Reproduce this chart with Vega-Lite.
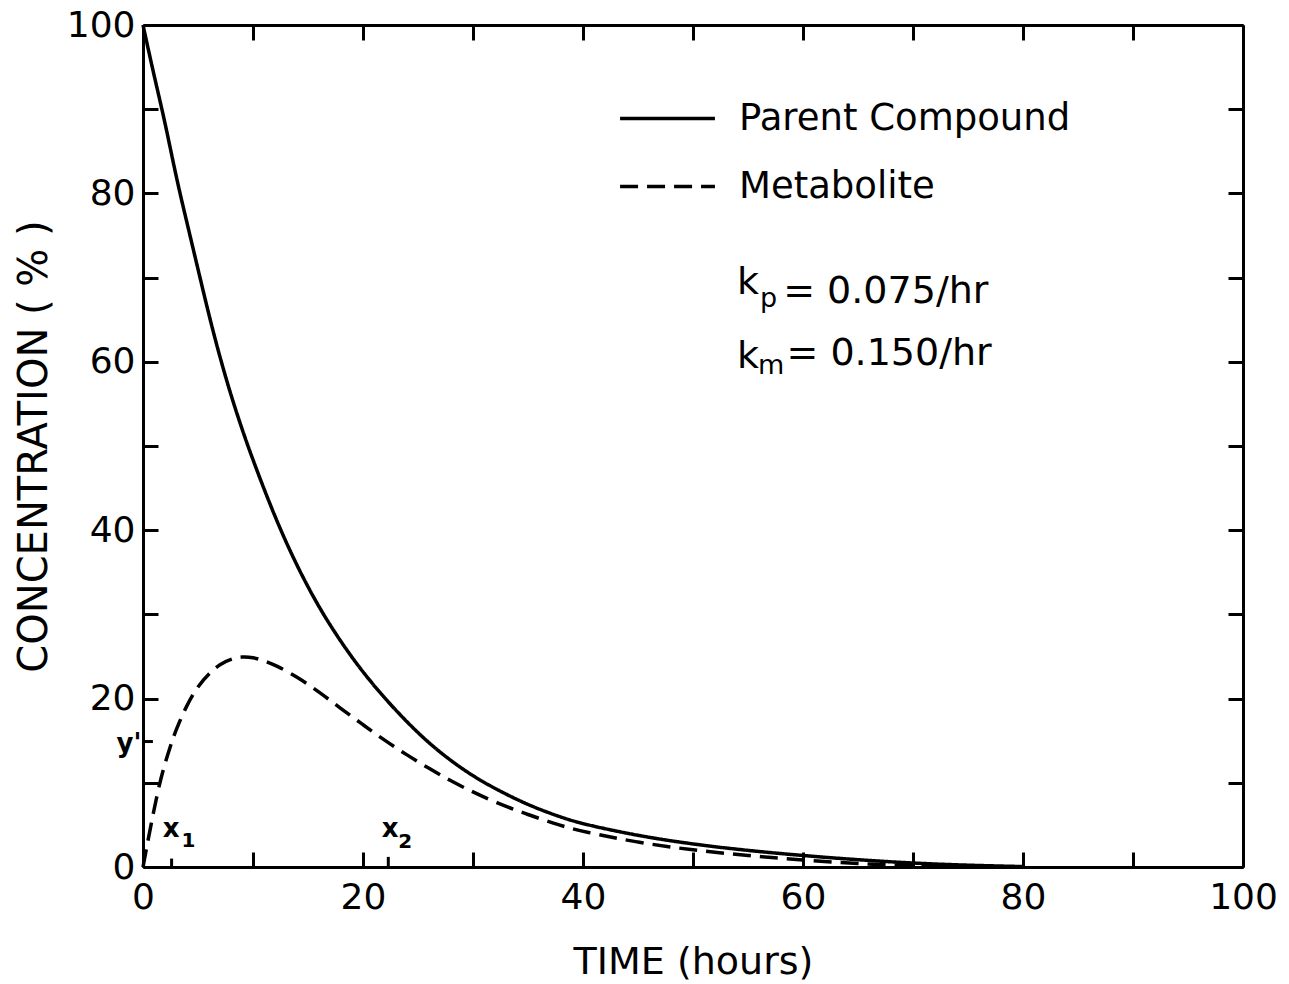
{
  "$schema": "https://vega.github.io/schema/vega-lite/v6.json",
  "width": 1100,
  "height": 842,
  "autosize": "none",
  "padding": {"left": 143, "top": 25, "right": 46, "bottom": 117},
  "background": "white",
  "config": {
    "view": {"stroke": null},
    "axis": {
      "domainColor": "black", "domainWidth": 3, "tickColor": "black", "tickWidth": 3,
      "labelColor": "black", "titleColor": "black", "labelFont": "DejaVu Sans", "titleFont": "DejaVu Sans",
      "grid": false, "titleFontWeight": "normal", "labelFlush": false, "labelOverlap": false
    },
    "text": {"font": "DejaVu Sans", "color": "black"}
  },
  "datasets": {
    "curves": [
      {"series": "Parent Compound", "t": 0, "v": 100},
      {"series": "Parent Compound", "t": 1, "v": 94},
      {"series": "Parent Compound", "t": 2, "v": 88.5},
      {"series": "Parent Compound", "t": 3, "v": 82},
      {"series": "Parent Compound", "t": 4, "v": 76.5},
      {"series": "Parent Compound", "t": 5, "v": 71},
      {"series": "Parent Compound", "t": 6, "v": 65.5},
      {"series": "Parent Compound", "t": 7, "v": 60.5},
      {"series": "Parent Compound", "t": 8, "v": 56},
      {"series": "Parent Compound", "t": 9, "v": 52},
      {"series": "Parent Compound", "t": 10, "v": 48.3},
      {"series": "Parent Compound", "t": 12, "v": 41.5},
      {"series": "Parent Compound", "t": 14, "v": 35.7},
      {"series": "Parent Compound", "t": 16, "v": 30.8},
      {"series": "Parent Compound", "t": 18, "v": 26.7},
      {"series": "Parent Compound", "t": 20, "v": 23.1},
      {"series": "Parent Compound", "t": 22, "v": 20.0},
      {"series": "Parent Compound", "t": 24, "v": 17.2},
      {"series": "Parent Compound", "t": 26, "v": 14.7},
      {"series": "Parent Compound", "t": 28, "v": 12.6},
      {"series": "Parent Compound", "t": 30, "v": 10.8},
      {"series": "Parent Compound", "t": 32, "v": 9.3},
      {"series": "Parent Compound", "t": 35, "v": 7.35},
      {"series": "Parent Compound", "t": 38, "v": 5.9},
      {"series": "Parent Compound", "t": 40, "v": 5.1},
      {"series": "Parent Compound", "t": 45, "v": 3.7},
      {"series": "Parent Compound", "t": 50, "v": 2.7},
      {"series": "Parent Compound", "t": 55, "v": 1.95},
      {"series": "Parent Compound", "t": 60, "v": 1.35},
      {"series": "Parent Compound", "t": 65, "v": 0.85},
      {"series": "Parent Compound", "t": 70, "v": 0.45},
      {"series": "Parent Compound", "t": 75, "v": 0.2},
      {"series": "Parent Compound", "t": 80, "v": 0.05},
      {"series": "Metabolite", "t": 0, "v": 0},
      {"series": "Metabolite", "t": 0.5, "v": 3.5},
      {"series": "Metabolite", "t": 1, "v": 6.8},
      {"series": "Metabolite", "t": 1.5, "v": 9.9},
      {"series": "Metabolite", "t": 2, "v": 12.3},
      {"series": "Metabolite", "t": 2.5, "v": 14.4},
      {"series": "Metabolite", "t": 3, "v": 16.3},
      {"series": "Metabolite", "t": 4, "v": 19.3},
      {"series": "Metabolite", "t": 5, "v": 21.5},
      {"series": "Metabolite", "t": 6, "v": 23.0},
      {"series": "Metabolite", "t": 7, "v": 24.1},
      {"series": "Metabolite", "t": 8, "v": 24.7},
      {"series": "Metabolite", "t": 9, "v": 25.0},
      {"series": "Metabolite", "t": 10, "v": 24.9},
      {"series": "Metabolite", "t": 11, "v": 24.5},
      {"series": "Metabolite", "t": 12, "v": 24.0},
      {"series": "Metabolite", "t": 14, "v": 22.6},
      {"series": "Metabolite", "t": 16, "v": 20.8},
      {"series": "Metabolite", "t": 18, "v": 18.8},
      {"series": "Metabolite", "t": 20, "v": 16.9},
      {"series": "Metabolite", "t": 22, "v": 15.0},
      {"series": "Metabolite", "t": 24, "v": 13.3},
      {"series": "Metabolite", "t": 26, "v": 11.7},
      {"series": "Metabolite", "t": 28, "v": 10.2},
      {"series": "Metabolite", "t": 30, "v": 8.9},
      {"series": "Metabolite", "t": 32, "v": 7.7},
      {"series": "Metabolite", "t": 35, "v": 6.2},
      {"series": "Metabolite", "t": 38, "v": 4.9},
      {"series": "Metabolite", "t": 40, "v": 4.2},
      {"series": "Metabolite", "t": 45, "v": 2.9},
      {"series": "Metabolite", "t": 50, "v": 2.0},
      {"series": "Metabolite", "t": 55, "v": 1.35},
      {"series": "Metabolite", "t": 60, "v": 0.8},
      {"series": "Metabolite", "t": 65, "v": 0.4},
      {"series": "Metabolite", "t": 70, "v": 0.15},
      {"series": "Metabolite", "t": 75, "v": 0.05}
    ],
    "marks": [
      {"t": 2.6, "t2": 2.6, "v": 0, "v2": 1.0},
      {"t": 22.3, "t2": 22.3, "v": 0, "v2": 1.2},
      {"t": 0, "t2": 0.9, "v": 14.9, "v2": 14.9}
    ],
    "notes": [
      {"label": "k", "t": 54.0, "v": 68.1, "role": "param"},
      {"label": "p", "t": 56.1, "v": 66.5, "role": "param_sub"},
      {"label": "= 0.075/hr", "t": 58.2, "v": 67.0, "role": "param"},
      {"label": "k", "t": 54.0, "v": 59.3, "role": "param"},
      {"label": "m", "t": 55.9, "v": 58.6, "role": "param_sub"},
      {"label": "= 0.150/hr", "t": 58.5, "v": 59.6, "role": "param"},
      {"label": "y'", "t": -2.4, "v": 13.6, "role": "mark"},
      {"label": "x", "t": 1.8, "v": 3.6, "role": "mark"},
      {"label": "1", "t": 3.5, "v": 2.4, "role": "mark_sub"},
      {"label": "x", "t": 21.7, "v": 3.6, "role": "mark"},
      {"label": "2", "t": 23.2, "v": 2.25, "role": "mark_sub"}
    ]
  },
  "layer": [
    {
      "data": {"name": "curves"},
      "mark": {"type": "line", "strokeWidth": 3.5, "color": "black", "interpolate": "basis"},
      "encoding": {
        "x": {"field": "t", "type": "quantitative", "scale": {"domain": [0, 100], "nice": false},
          "axis": {"orient": "bottom", "title": "TIME  (hours)", "titleFontSize": 38, "titlePadding": 28,
            "values": [0, 10, 20, 30, 40, 50, 60, 70, 80, 90, 100],
            "labelExpr": "datum.value % 20 === 0 ? datum.label : ''",
            "tickSize": -15, "labelFontSize": 36, "labelPadding": 28}},
        "y": {"field": "v", "type": "quantitative", "scale": {"domain": [0, 100], "nice": false},
          "axis": {"orient": "left", "title": "CONCENTRATION ( % )", "titleFontSize": 40, "titlePadding": 12,
            "values": [0, 10, 20, 30, 40, 50, 60, 70, 80, 90, 100],
            "labelExpr": "datum.value % 20 === 0 ? datum.label : ''",
            "tickSize": -15, "labelFontSize": 36, "labelPadding": 23}},
        "strokeDash": {"field": "series", "type": "nominal",
          "scale": {"domain": ["Parent Compound", "Metabolite"], "range": [[1, 0], [18, 9]]},
          "legend": {"orient": "none", "legendX": 475, "legendY": 44, "title": null,
            "symbolType": "stroke", "symbolSize": 9000, "symbolStrokeWidth": 3.5, "symbolStrokeColor": "black",
            "labelFontSize": 37, "labelFont": "DejaVu Sans", "labelColor": "black", "labelOffset": 22,
            "labelLimit": 0, "rowPadding": 0}}
      }
    },
    {
      "data": {"name": "marks"},
      "mark": {"type": "rule", "strokeWidth": 3, "color": "black"},
      "encoding": {
        "x": {"field": "t", "type": "quantitative",
          "axis": {"orient": "top", "title": null, "labels": false,
            "values": [0, 10, 20, 30, 40, 50, 60, 70, 80, 90, 100], "tickSize": -15}},
        "x2": {"field": "t2"},
        "y": {"field": "v", "type": "quantitative",
          "axis": {"orient": "right", "title": null, "labels": false,
            "values": [0, 10, 20, 30, 40, 50, 60, 70, 80, 90, 100], "tickSize": -15}},
        "y2": {"field": "v2"}
      }
    },
    {
      "data": {"name": "notes"},
      "transform": [{"filter": "datum.role === 'param'"}],
      "mark": {"type": "text", "fontSize": 38, "align": "left", "baseline": "alphabetic"},
      "encoding": {
        "x": {"field": "t", "type": "quantitative", "axis": null},
        "y": {"field": "v", "type": "quantitative", "axis": null},
        "text": {"field": "label"}
      }
    },
    {
      "data": {"name": "notes"},
      "transform": [{"filter": "datum.role === 'param_sub'"}],
      "mark": {"type": "text", "fontSize": 27, "align": "left", "baseline": "alphabetic"},
      "encoding": {
        "x": {"field": "t", "type": "quantitative", "axis": null},
        "y": {"field": "v", "type": "quantitative", "axis": null},
        "text": {"field": "label"}
      }
    },
    {
      "data": {"name": "notes"},
      "transform": [{"filter": "datum.role === 'mark'"}],
      "mark": {"type": "text", "fontSize": 26, "fontWeight": "bold", "align": "left", "baseline": "alphabetic"},
      "encoding": {
        "x": {"field": "t", "type": "quantitative", "axis": null},
        "y": {"field": "v", "type": "quantitative", "axis": null},
        "text": {"field": "label"}
      }
    },
    {
      "data": {"name": "notes"},
      "transform": [{"filter": "datum.role === 'mark_sub'"}],
      "mark": {"type": "text", "fontSize": 20, "fontWeight": "bold", "align": "left", "baseline": "alphabetic"},
      "encoding": {
        "x": {"field": "t", "type": "quantitative", "axis": null},
        "y": {"field": "v", "type": "quantitative", "axis": null},
        "text": {"field": "label"}
      }
    }
  ],
  "resolve": {"axis": {"x": "independent", "y": "independent"}}
}
